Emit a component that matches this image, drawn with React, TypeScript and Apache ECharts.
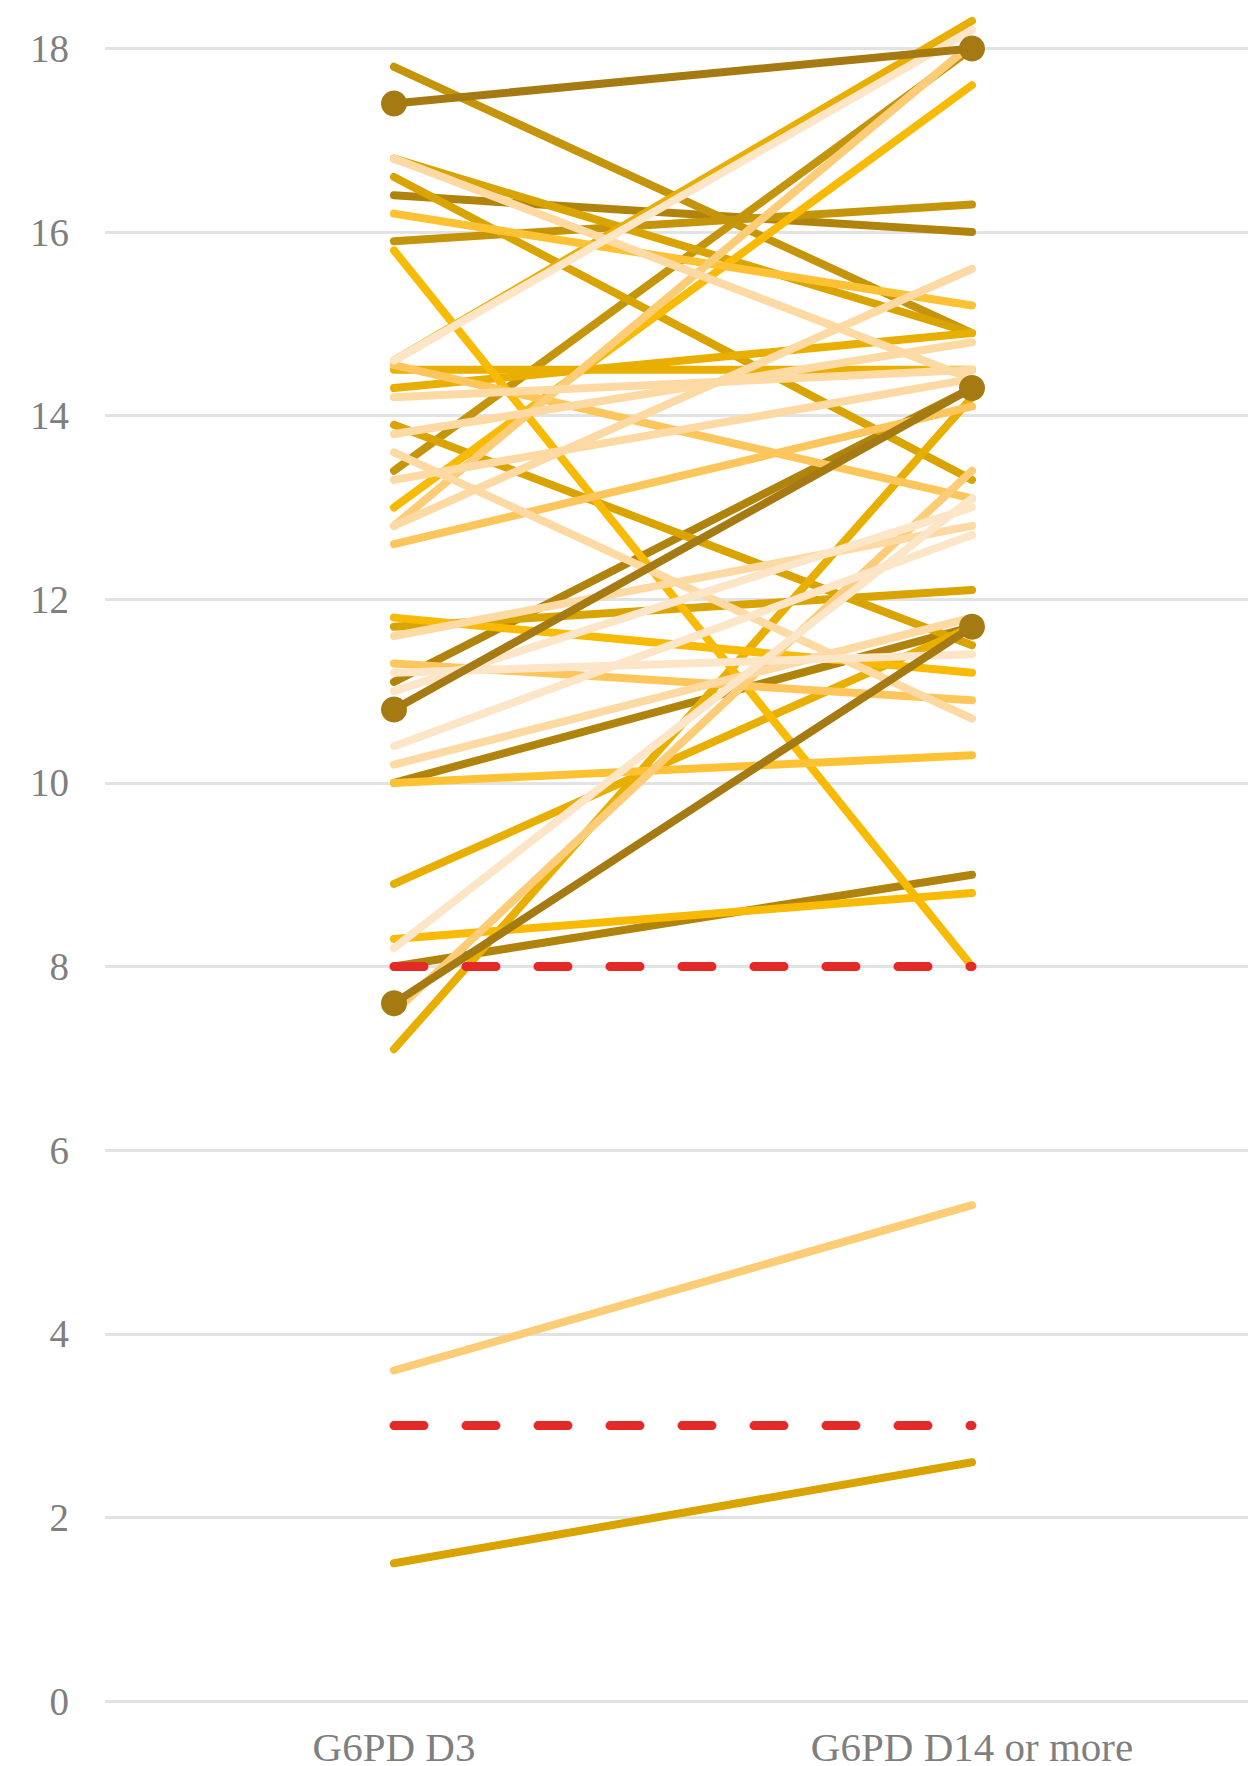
import React, { useEffect, useRef } from "react";
import * as echarts from "echarts";

const categories = ["G6PD D3", "G6PD D14 or more"];
const yTicks = { min: 0, max: 18, interval: 2 };

// paired values [D3, D14+] per patient, grouped by colour
const darkDotPairs = [
  [17.4, 18.0],
  [10.8, 14.3],
  [7.6, 11.7],
];
const darkPairs = [
  [16.4, 16.0],
  [11.1, 14.3],
  [10.0, 11.7],
  [8.0, 9.0],
];
const brownGoldPairs = [
  [17.8, 14.9],
  [15.9, 16.3],
  [13.4, 18.0],
];
const goldPairs = [
  [16.6, 13.3],
  [16.8, 14.9],
  [13.9, 11.5],
  [11.7, 12.1],
  [1.5, 2.6],
];
const amberPairs = [
  [14.6, 18.3],
  [14.5, 14.5],
  [14.3, 14.9],
  [7.1, 14.2],
  [8.9, 11.7],
];
const yellowPairs = [
  [15.8, 8.0],
  [13.0, 17.6],
  [11.8, 11.2],
  [8.3, 8.8],
];
const orangePairs = [
  [16.2, 15.2],
  [10.0, 10.3],
];
const lightOrangePairs = [
  [14.55, 13.1],
  [12.6, 14.1],
  [11.3, 10.9],
];
const paleOrangePairs = [
  [12.8, 18.05],
  [7.5, 13.4],
  [3.6, 5.4],
];
const peachPairs = [
  [16.8, 14.4],
  [14.2, 14.5],
  [13.8, 14.8],
  [13.6, 10.7],
  [13.3, 14.4],
  [12.8, 15.6],
  [11.6, 12.8],
  [10.2, 11.8],
];
const creamPairs = [
  [14.6, 18.2],
  [11.2, 11.4],
  [11.0, 13.0],
  [10.4, 12.7],
  [8.2, 13.1],
];
const thresholds = [8, 3];

const groups: { pairs: number[][]; color: string; dot?: boolean }[] = [
  { pairs: darkPairs, color: "#B0830C" },
  { pairs: brownGoldPairs, color: "#C4940A" },
  { pairs: goldPairs, color: "#D9A300" },
  { pairs: amberPairs, color: "#E9AF00" },
  { pairs: yellowPairs, color: "#F8BA02" },
  { pairs: orangePairs, color: "#FDC233" },
  { pairs: lightOrangePairs, color: "#FDC65C" },
  { pairs: paleOrangePairs, color: "#FDCC76" },
  { pairs: peachPairs, color: "#FDD9A3" },
  { pairs: creamPairs, color: "#FDE5C7" },
  { pairs: darkDotPairs, color: "#A67A12", dot: true },
];

const serif = "'Liberation Serif', 'Times New Roman', serif";

export default function App() {
  const ref = useRef<HTMLDivElement>(null);
  useEffect(() => {
    document.body.style.margin = "0";
    const chart = echarts.init(ref.current!, undefined, { renderer: "svg" });
    const series: any[] = [];
    groups.forEach((g, gi) => {
      g.pairs.forEach((p, i) => {
        series.push({
          name: `g${gi}_${i}`,
          type: "line",
          data: p,
          clip: false,
          symbol: g.dot ? "circle" : "none",
          showSymbol: !!g.dot,
          symbolSize: 26,
          itemStyle: { color: g.color },
          lineStyle: { color: g.color, width: 8, cap: "round" },
          emphasis: { disabled: true },
          silent: true,
        });
      });
    });
    thresholds.forEach((t, i) => {
      series.push({
        name: `threshold${i}`,
        type: "line",
        data: [t, t],
        symbol: "none",
        clip: false,
        lineStyle: { color: "#E42A26", width: 9, type: [30, 42], cap: "round" },
        silent: true,
      });
    });
    chart.setOption({
      animation: false,
      grid: {
        left: 105,
        top: 48.4,
        width: 1156,
        bottom: 65,
        containLabel: false,
        outerBoundsMode: "none",
      },
      xAxis: {
        type: "category",
        data: categories,
        boundaryGap: true,
        axisLine: { show: false },
        axisTick: { show: false },
        axisLabel: {
          fontFamily: serif,
          fontSize: 41,
          color: "#7f7f7f",
          margin: 25,
        },
      },
      yAxis: {
        type: "value",
        min: yTicks.min,
        max: yTicks.max,
        interval: yTicks.interval,
        axisLine: { show: false },
        axisTick: { show: false },
        axisLabel: {
          fontFamily: serif,
          fontSize: 39,
          color: "#7f7f7f",
          margin: 36,
        },
        splitLine: { lineStyle: { color: "#E3E3E3", width: 3 } },
      },
      series,
    });
    return () => chart.dispose();
  }, []);
  return <div ref={ref} style={{ width: 1248, height: 1766 }} />;
}
